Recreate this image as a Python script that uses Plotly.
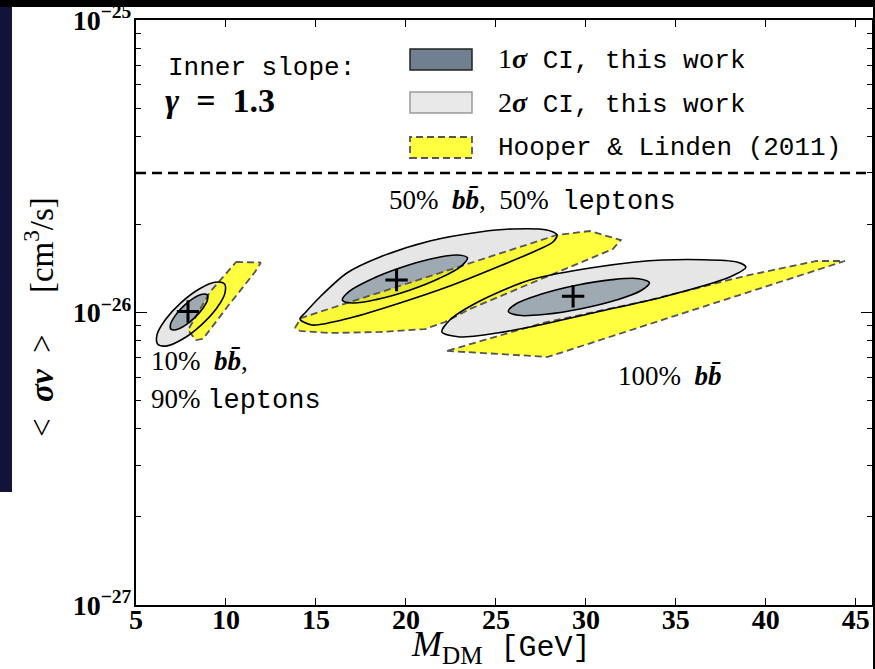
import plotly.graph_objects as go

# ---------------- data (mass in GeV, <sigma v> in units of 1e-26 cm^3/s) ----------------
SV_UNIT = 1e-26

# 10% bb, 90% leptons
m_1s_10 = [8.96, 8.97, 8.71, 8.25, 7.71, 7.22, 6.94, 6.92, 7.18, 7.64, 8.18, 8.67]
sv_1s_10 = [1.149, 1.103, 1.032, 0.959, 0.902, 0.873, 0.877, 0.913, 0.976, 1.051, 1.117, 1.154]
m_2s_10 = [9.91, 9.94, 9.47, 8.62, 7.62, 6.73, 6.21, 6.17, 6.64, 7.49, 8.49, 9.38]
sv_2s_10 = [1.254, 1.163, 1.032, 0.906, 0.813, 0.769, 0.779, 0.840, 0.946, 1.079, 1.201, 1.269]
m_hl_10 = [10.56, 11.94, 11.61, 10.11, 8.72, 8.33, 7.89, 9.11]
sv_hl_10 = [1.488, 1.482, 1.375, 1.052, 0.812, 0.805, 0.871, 1.175]

# 50% bb, 50% leptons
m_1s_50 = [23.42, 23.06, 21.87, 20.16, 18.39, 17.04, 16.47, 16.83, 18.02, 19.73, 21.49, 22.84]
sv_1s_50 = [1.538, 1.439, 1.310, 1.190, 1.109, 1.078, 1.102, 1.178, 1.294, 1.424, 1.529, 1.573]
m_2s_50 = [14.11, 14.39, 15.22, 16.72, 18.56, 21.33, 24.11, 25.94, 27.83, 28.39, 28.17,
           27.44, 25.22, 22.44, 19.67, 16.89, 14.78]
sv_2s_50 = [0.950, 0.996, 1.130, 1.365, 1.548, 1.756, 1.885, 1.930, 1.914, 1.841, 1.742,
            1.648, 1.442, 1.232, 1.078, 0.958, 0.906]
m_hl_50 = [13.83, 14.17, 28.39, 30.22, 31.94, 31.50, 26.72, 23.56, 22.17, 21.06, 18.56, 15.78, 14.11]
sv_hl_50 = [0.885, 0.958, 1.841, 1.899, 1.769, 1.648, 1.242, 1.028, 0.928, 0.878, 0.858, 0.851, 0.865]

# 100% bb
m_1s_100 = [33.53, 33.07, 31.69, 29.74, 27.77, 26.28, 25.69, 26.15, 27.54, 29.48, 31.46, 32.94]
sv_1s_100 = [1.264, 1.189, 1.103, 1.030, 0.986, 0.978, 1.009, 1.073, 1.157, 1.240, 1.295, 1.305]
m_2s_100 = [22.00, 22.44, 24.11, 26.89, 30.61, 34.28, 38.39, 38.89, 38.00, 34.28, 30.61, 26.89, 25.06, 23.00]
sv_2s_100 = [0.858, 0.943, 1.095, 1.291, 1.431, 1.512, 1.488, 1.431, 1.322, 1.130, 1.004, 0.892, 0.851, 0.825]
m_hl_100 = [22.28, 27.89, 44.39, 42.83, 38.83, 33.56, 27.61]
sv_hl_100 = [0.739, 0.705, 1.500, 1.500, 1.333, 1.103, 0.921]

# best-fit points
best_m = [7.89, 19.48, 29.29]
best_sv = [1.008, 1.291, 1.136]

# thermal relic cross-section
relic_sv = 3.0

x_range = [5, 45.9]
x_ticks = [5, 10, 15, 20, 25, 30, 35, 40, 45]
y_ticks = [1e-27, 1e-26, 1e-25]
y_ticktext = ["10<sup>−27</sup>", "10<sup>−26</sup>", "10<sup>−25</sup>"]
y_minor = [k * 1e-27 for k in range(2, 10)] + [k * 1e-26 for k in range(2, 10)]

legend_labels = ["<span style='font-size:28px'>1<b><i>σ</i></b></span><span style='font-family:Liberation Mono'> CI, this work</span>",
                 "<span style='font-size:28px'>2<b><i>σ</i></b></span><span style='font-family:Liberation Mono'> CI, this work</span>",
                 "<span style='font-family:Liberation Mono'>Hooper &amp; Linden (2011)</span>"]

# ---------------- styles ----------------
C2 = "#e6e6e6"
C1 = "rgba(112,128,144,0.6)"
CY = "rgba(255,255,0,0.75)"
SERIF = "Liberation Serif"
MONO = "Liberation Mono"

fig = go.Figure()


def closed(xs, ys):
    return list(xs) + [xs[0]], [v * SV_UNIT for v in list(ys) + [ys[0]]]


def add_fill(xs, ys, color, smooth):
    x, y = closed(xs, ys)
    fig.add_trace(go.Scatter(x=x, y=y, mode="lines", fill="toself", fillcolor=color,
                             line=dict(width=0, shape="spline", smoothing=smooth),
                             hoverinfo="skip", showlegend=False))


def add_outline(xs, ys, smooth):
    x, y = closed(xs, ys)
    fig.add_trace(go.Scatter(x=x, y=y, mode="lines",
                             line=dict(width=1.6, color="black", shape="spline", smoothing=smooth),
                             hoverinfo="skip", showlegend=False))


def add_hl(xs, ys):
    x, y = closed(xs, ys)
    fig.add_trace(go.Scatter(x=x, y=y, mode="lines", fill="toself", fillcolor=CY,
                             line=dict(width=1.8, color="#555555", dash="7px,4px"),
                             hoverinfo="skip", showlegend=False))


# 2 sigma fills
add_fill(m_2s_10, sv_2s_10, C2, 1.0)
add_fill(m_2s_50, sv_2s_50, C2, 0.8)
add_fill(m_2s_100, sv_2s_100, C2, 0.8)
# 1 sigma fills
add_fill(m_1s_10, sv_1s_10, C1, 1.0)
add_fill(m_1s_50, sv_1s_50, C1, 1.0)
add_fill(m_1s_100, sv_1s_100, C1, 1.0)
# Hooper & Linden regions
add_hl(m_hl_10, sv_hl_10)
add_hl(m_hl_50, sv_hl_50)
add_hl(m_hl_100, sv_hl_100)
# contour outlines
add_outline(m_2s_10, sv_2s_10, 1.0)
add_outline(m_2s_50, sv_2s_50, 0.8)
add_outline(m_2s_100, sv_2s_100, 0.8)
add_outline(m_1s_10, sv_1s_10, 1.0)
add_outline(m_1s_50, sv_1s_50, 1.0)
add_outline(m_1s_100, sv_1s_100, 1.0)

# best-fit markers
fig.add_trace(go.Scatter(x=best_m, y=[v * SV_UNIT for v in best_sv], mode="markers",
                         marker=dict(symbol="cross-thin", size=16, line=dict(width=3, color="black")),
                         hoverinfo="skip", showlegend=False))

# relic line
fig.add_trace(go.Scatter(x=x_range, y=[relic_sv * SV_UNIT] * 2, mode="lines",
                         line=dict(color="black", width=2.6, dash="10px,6px"),
                         hoverinfo="skip", showlegend=False))

# ---------------- layout ----------------
W, H = 875, 669
L, R, T, B = 136, 3, 20, 64
PW, PH = W - L - R, H - T - B


def px(xp):
    return (xp - L) / PW


def py(yp):
    return (H - B - yp) / PH


shapes = [
    # slide background pieces
    dict(type="rect", xref="paper", yref="paper", x0=px(12), x1=px(873), y0=py(669), y1=py(7),
         fillcolor="white", line=dict(width=0), layer="below"),
    dict(type="rect", xref="paper", yref="paper", x0=px(0), x1=px(12), y0=py(492), y1=py(7),
         fillcolor="#12123a", line=dict(width=0), layer="below"),
    dict(type="rect", xref="paper", yref="paper", x0=px(0), x1=px(12), y0=py(669), y1=py(492),
         fillcolor="white", line=dict(width=0), layer="below"),
    # legend swatches
    dict(type="rect", xref="paper", yref="paper", x0=px(410), x1=px(472), y0=py(70), y1=py(49),
         fillcolor="#708090", line=dict(color="#222222", width=1.5)),
    dict(type="rect", xref="paper", yref="paper", x0=px(410), x1=px(472), y0=py(113), y1=py(92),
         fillcolor="#e9e9e9", line=dict(color="#9a9a9a", width=1.5)),
    dict(type="rect", xref="paper", yref="paper", x0=px(410), x1=px(472), y0=py(158), y1=py(137),
         fillcolor="#ffff40", line=dict(color="#555555", width=1.8, dash="7px,4px")),
]

ann_font = dict(family=SERIF, size=27, color="black")
annotations = []
for lbl, yc in zip(legend_labels, [60, 103, 148]):
    annotations.append(dict(xref="paper", yref="paper", x=px(496), y=py(yc), text=lbl,
                            showarrow=False, xanchor="left", yanchor="middle",
                            font=dict(family=SERIF, size=26, color="black")))

bb = "<b><i>bb̄</i></b>"
NB = "&nbsp;"
annotations += [
    dict(x=px(166), y=py(68), text="Inner slope:", font=dict(family=MONO, size=26, color="black")),
    dict(x=px(163), y=py(101), text=f"<b><i>γ</i>{NB}{NB}={NB}{NB}1.3</b>",
         font=dict(family=SERIF, size=34, color="black")),
    dict(x=px(387), y=py(201),
         text=f"50%{NB}{NB}{bb},{NB}{NB}50%{NB}{NB}<span style='font-family:{MONO}'>leptons</span>",
         font=ann_font),
    dict(x=px(149), y=py(361), text=f"10%{NB}{NB}{bb},", font=ann_font),
    dict(x=px(149), y=py(400), text=f"90%{NB}<span style='font-family:{MONO}'>leptons</span>",
         font=ann_font),
    dict(x=px(616), y=py(376), text=f"100%{NB}{NB}{bb}", font=ann_font),
]
for a in annotations[3:]:
    a.update(xref="paper", yref="paper", showarrow=False, xanchor="left", yanchor="middle")

# axis titles
annotations.append(dict(xref="paper", yref="paper", x=px(409), y=py(646), xanchor="left", yanchor="middle",
                        showarrow=False,
                        text=f"<i>M</i><sub>DM</sub>{NB}{NB}<span style='font-family:{MONO};font-size:30px'>[GeV]</span>",
                        font=dict(family=SERIF, size=36, color="black")))
annotations.append(dict(xref="paper", yref="paper", x=px(39), y=py(317), xanchor="center", yanchor="middle",
                        showarrow=False, textangle=-90,
                        text=f"&lt;{NB}{NB}<b><i>σv</i></b>{NB}{NB}&gt;{NB}{NB}{NB}{NB}{NB}[cm<sup>3</sup>/s]",
                        font=dict(family=SERIF, size=33, color="black")))

tickfont = dict(family=SERIF, size=28, color="black", weight="bold")

fig.update_layout(
    width=W, height=H,
    margin=dict(l=L, r=R, t=T, b=B),
    paper_bgcolor="black", plot_bgcolor="white",
    shapes=shapes, annotations=annotations,
    showlegend=False,
    xaxis=dict(range=x_range, tickvals=x_ticks, ticks="inside", ticklen=7, tickwidth=1,
               tickcolor="black", showline=True, linecolor="black", linewidth=2, mirror="ticks",
               showgrid=False, zeroline=False, tickfont=tickfont, automargin=False,
               ticklabelstandoff=-12),
    yaxis=dict(type="log", range=[-27, -25], tickvals=y_ticks, ticktext=y_ticktext,
               ticks="inside", ticklen=11, tickwidth=1, tickcolor="black",
               showline=True, linecolor="black", linewidth=2, mirror="ticks",
               showgrid=False, zeroline=False, tickfont=tickfont, automargin=False,
               ticklabelstandoff=-3,
               minor=dict(tickvals=y_minor, ticks="inside", ticklen=5, tickwidth=1, tickcolor="black",
                          showgrid=False)),
)

fig.write_html("out.html", config={"displayModeBar": False},
               post_script="document.body.style.margin='0px';document.body.style.overflow='hidden';")
